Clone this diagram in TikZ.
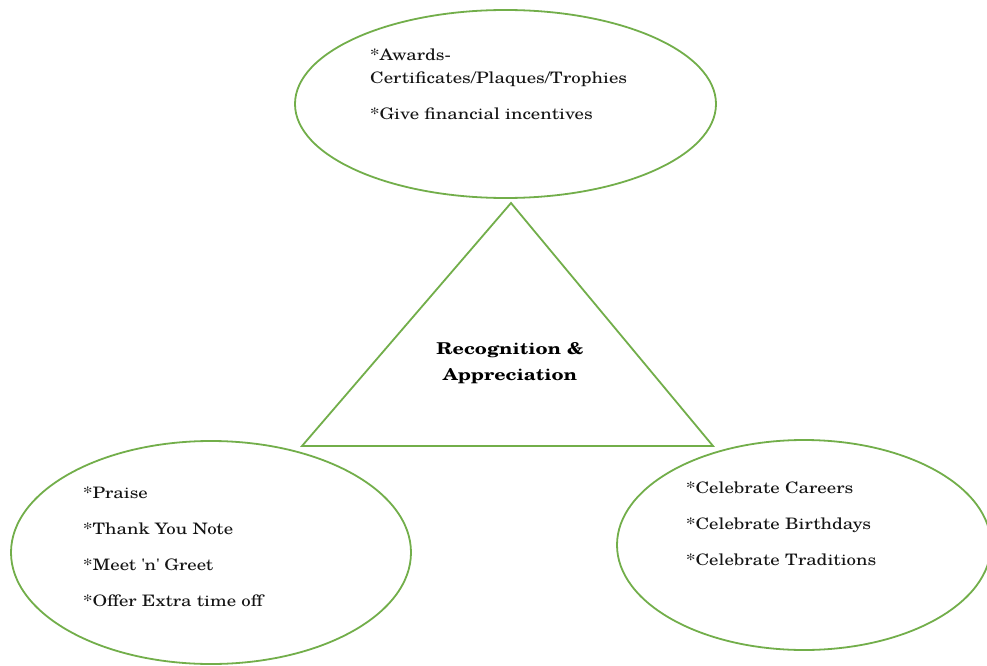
\documentclass[tikz,border=0pt]{standalone}
\usepackage{fontspec}
\setmainfont{TeX Gyre Schola}[FakeStretch=1.19, BoldFeatures={FakeStretch=1.21}]
\definecolor{leafgreen}{HTML}{72AE4A}
\definecolor{inktext}{HTML}{141414}
\tikzset{
  outline/.style={draw=leafgreen, line width=1.8pt},
  item/.style={anchor=base west, inner sep=0pt, text=inktext, font=\fontsize{15.8}{18}\selectfont},
  title/.style={anchor=base, inner sep=0pt, text=black, font=\fontsize{16.3}{19}\selectfont\bfseries},
}
\begin{document}
\begin{tikzpicture}[x=1pt, y=-1pt]
  \useasboundingbox (0,0) rectangle (987,666);
  \fill[white] (0,0) rectangle (987,666);

  % three ellipses
  \draw[outline] (505.5,104) ellipse [x radius=210.5, y radius=94];
  \draw[outline] (211,552.5) ellipse [x radius=200, y radius=111.5];
  \draw[outline] (804,545) ellipse [x radius=187, y radius=105];

  % central triangle
  \coordinate (apex) at (511,203);
  \coordinate (baseL) at (302,446);
  \coordinate (baseR) at (713,446);
  \draw[outline, line join=miter] (apex) -- (baseL) -- (baseR) -- cycle;

  % title
  \node[title] (t1) at (510,354) {Recognition \&};
  \node[title] (t2) at (510,380) {Appreciation};

  % top ellipse text
  \node[item] (a1) at (370,61) {*Awards-};
  \node[item] (a2) at (370,84) {Certificates/Plaques/Trophies};
  \node[item] (a3) at (370,120) {*Give financial incentives};

  % lower left ellipse text
  \node[item] (b1) at (83,498) {*Praise};
  \node[item] (b2) at (83,534) {*Thank You Note};
  \node[item] (b3) at (83,570) {*Meet \textquotesingle n\textquotesingle{} Greet};
  \node[item] (b4) at (83,606) {*Offer Extra time off};

  % lower right ellipse text
  \node[item] (c1) at (686,493) {*Celebrate Careers};
  \node[item] (c2) at (686,529) {*Celebrate Birthdays};
  \node[item] (c3) at (686,565) {*Celebrate Traditions};
\end{tikzpicture}
\end{document}
